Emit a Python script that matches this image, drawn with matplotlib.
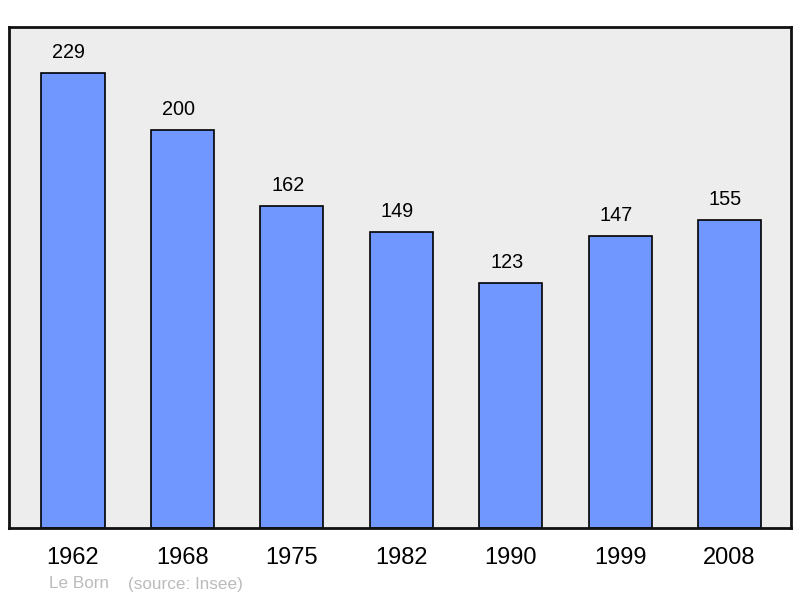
import matplotlib.pyplot as plt

# Données : population par année de recensement
annees = ["1962", "1968", "1975", "1982", "1990", "1999", "2008"]
population = [229, 200, 162, 149, 123, 147, 155]

plt.rcParams['font.family'] = ['Liberation Sans', 'DejaVu Sans']

fig = plt.figure(figsize=(8, 5.98), dpi=100)
ax = fig.add_axes([9 / 800, 70 / 598, 782 / 800, 501 / 598])
ax.set_facecolor("#ededed")

x = range(len(annees))
bars = ax.bar(x, population, width=0.576, color="#7097ff", edgecolor="black", linewidth=1.2)

# Valeurs au-dessus des barres
for xi, val in zip(x, population):
    ax.annotate(str(val), (xi, val), xytext=(-2.9, 14.8), textcoords="offset points",
                ha="center", va="center", fontsize=14.3)

ax.set_xlim(-0.585, 6.562)
ax.set_ylim(0, 252)
ax.set_xticks(list(x))
ax.set_xticklabels(annees, fontsize=17)
ax.tick_params(axis="x", length=0, pad=13.5)
ax.set_yticks([])
for s in ax.spines.values():
    s.set_linewidth(2)
    s.set_color("#111111")

fig.text(49 / 800, 1 - 584 / 598, "Le Born", color="#bbbbbb", fontsize=12.3, va="center")
fig.text(128 / 800, 1 - 584 / 598, "(source: Insee)", color="#bbbbbb", fontsize=12.3, va="center")

fig.savefig("out.png", dpi=100)
